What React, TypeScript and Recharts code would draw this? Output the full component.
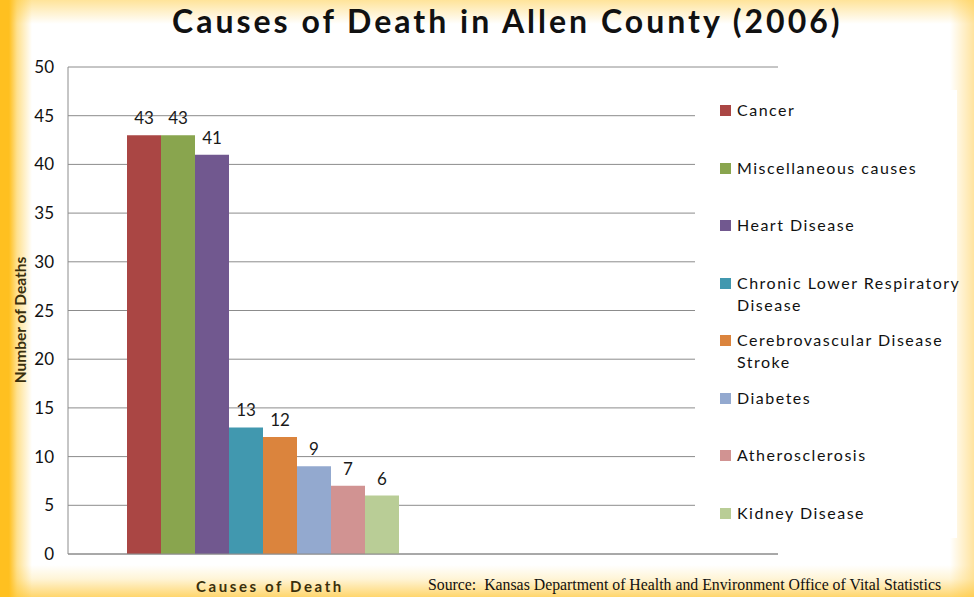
import React from "react";
import { BarChart, Bar, XAxis, YAxis, CartesianGrid, LabelList } from "recharts";

const seriesKeys = ["cancer", "misc", "heart", "chronic", "cerebro", "diabetes", "athero", "kidney"];
const seriesNames = [
  "Cancer",
  "Miscellaneous causes",
  "Heart Disease",
  "Chronic Lower Respiratory Disease",
  "Cerebrovascular Disease Stroke",
  "Diabetes",
  "Atherosclerosis",
  "Kidney Disease",
];
const seriesValues = [43, 43, 41, 13, 12, 9, 7, 6];
const seriesColors = ["#AA4644", "#89A54E", "#71588F", "#4198AF", "#DB843D", "#93A9CF", "#D19392", "#B9CD96"];
const yTicks = [0, 5, 10, 15, 20, 25, 30, 35, 40, 45, 50];
const categories = [""];

const data = categories.map((c) => {
  const row: Record<string, any> = { name: c };
  seriesKeys.forEach((k, i) => (row[k] = seriesValues[i]));
  return row;
});

const FONT = "Lato, 'Open Sans', sans-serif";
const BROWN = "#3a2f0c";

export default function App() {
  return (
    <div
      style={{
        position: "absolute",
        left: 0,
        top: 0,
        width: 974,
        height: 597,
        overflow: "hidden",
        background: [
          "linear-gradient(to right, #FFC020 0px, #FFC020 9px, rgba(255,200,50,0.55) 17px, rgba(255,255,255,0) 32px)",
          "linear-gradient(to bottom, rgba(255,205,70,0.55) 0px, rgba(255,255,255,0) 24px)",
          "linear-gradient(to top, rgba(255,200,60,0.75) 0px, rgba(255,220,120,0.3) 18px, rgba(255,255,255,0) 32px)",
          "linear-gradient(to left, rgba(255,205,80,0.55) 0px, rgba(255,255,255,0) 24px)",
          "#ffffff",
        ].join(","),
        fontFamily: FONT,
      }}
    >
      <div
        style={{
          position: "absolute",
          left: 172,
          top: 1,
          fontSize: 32,
          fontWeight: 700,
          letterSpacing: 3,
          color: "#111",
          whiteSpace: "nowrap",
        }}
      >
        Causes of Death in Allen County (2006)
      </div>
      <BarChart
        width={974}
        height={597}
        data={data}
        margin={{ top: 67, right: 196, bottom: 0, left: 0 }}
        barGap={0}
        barCategoryGap={0}
        style={{ position: "absolute", left: 0, top: 0 }}
      >
        <CartesianGrid vertical={false} stroke="#8c8c8c" strokeWidth={1} />
        <XAxis
          dataKey="name"
          height={43}
          tick={false}
          tickLine={false}
          axisLine={{ stroke: "#8c8c8c" }}
          padding={{ left: 59, right: 380 }}
        />
        <YAxis
          width={68}
          domain={[0, 50]}
          ticks={yTicks}
          tickLine={false}
          tickSize={0}
          tickMargin={14}
          axisLine={{ stroke: "#8c8c8c" }}
          tick={{ fontSize: 17, fill: "#111", fontFamily: FONT }}
          interval={0}
        />
        {seriesKeys.map((k, i) => (
          <Bar key={k} dataKey={k} name={seriesNames[i]} fill={seriesColors[i]} isAnimationActive={false}>
            <LabelList dataKey={k} position="top" offset={11} style={{ fontSize: 17, fill: "#1a1a1a", fontFamily: FONT }} />
          </Bar>
        ))}
      </BarChart>
      <div
        style={{
          position: "absolute",
          left: 695,
          top: 90,
          width: 262,
          height: 448,
          background: "#fff",
        }}
      >
        {seriesNames.map((n, i) => (
          <div
            key={n}
            style={{
              position: "absolute",
              left: 25,
              top: 9 + i * 57.5,
              width: 240,
              display: "flex",
              alignItems: "flex-start",
            }}
          >
            <div
              style={{
                width: 11,
                height: 11,
                background: seriesColors[i],
                marginTop: 6,
                flex: "none",
              }}
            />
            <div
              style={{
                marginLeft: 6,
                fontSize: 16,
                lineHeight: "22px",
                letterSpacing: 1.5,
                color: "#111",
                width: 226,
              }}
            >
              {n}
            </div>
          </div>
        ))}
      </div>
      <div
        style={{
          position: "absolute",
          left: 20,
          top: 320,
          transform: "translate(-50%, -50%) rotate(-90deg)",
          fontSize: 15.5,
          fontWeight: 700,
          color: BROWN,
          whiteSpace: "nowrap",
        }}
      >
        Number of Deaths
      </div>
      <div
        style={{
          position: "absolute",
          left: 196,
          top: 577,
          fontSize: 15,
          fontWeight: 700,
          letterSpacing: 2.6,
          color: BROWN,
          whiteSpace: "nowrap",
        }}
      >
        Causes of Death
      </div>
      <div
        style={{
          position: "absolute",
          left: 428,
          top: 576,
          fontSize: 15.8,
          fontFamily: "'Liberation Serif', 'Times New Roman', serif",
          color: "#111",
          whiteSpace: "pre",
        }}
      >
        {"Source:  Kansas Department of Health and Environment Office of Vital Statistics"}
      </div>
    </div>
  );
}
